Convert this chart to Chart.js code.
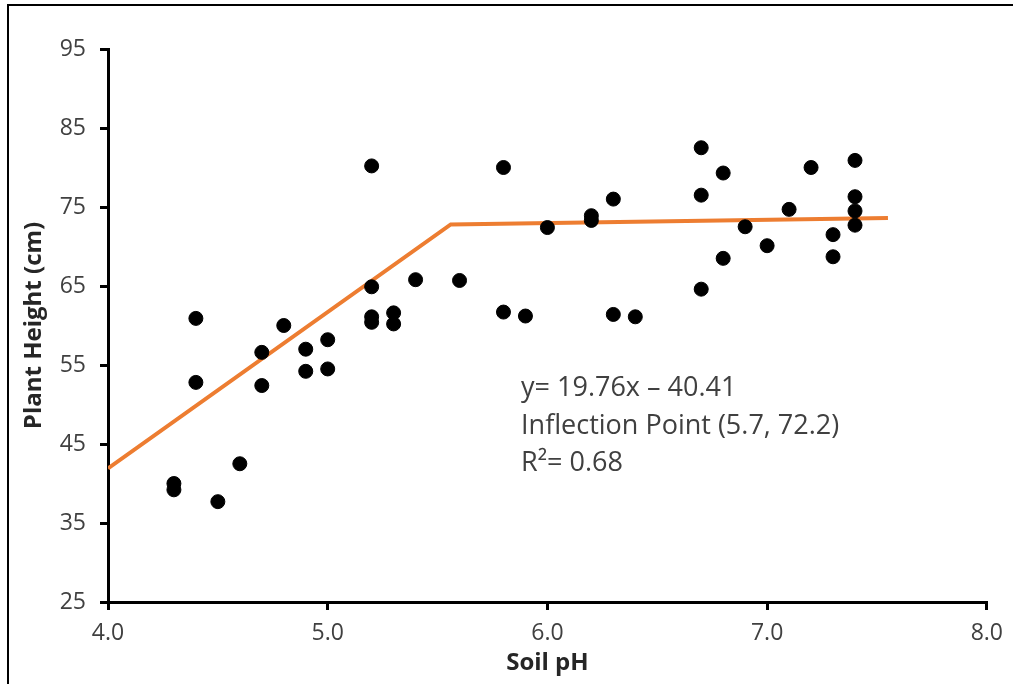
<!DOCTYPE html>
<html>
<head>
<meta charset="utf-8">
<script src="https://cdn.jsdelivr.net/npm/chart.js@4.4.1/dist/chart.umd.min.js"></script>
<style>
  html, body { margin: 0; padding: 0; background: #fff; }
  #wrap { position: relative; width: 1013px; height: 684px; }
  #frame { position: absolute; left: 7px; top: 4px; right: 0; bottom: 0;
           border-left: 2px solid #000; border-top: 2px solid #000; pointer-events: none; }
  canvas { position: absolute; left: 0; top: 0; }
</style>
</head>
<body>
<div id="wrap">
  <canvas id="chart" width="1013" height="684"></canvas>
  <div id="frame"></div>
</div>
<script>
// observed points (soil pH vs plant height)
const phValues = [
  4.3, 4.3, 4.4, 4.4, 4.5, 4.6, 4.7, 4.7, 4.8, 4.9, 4.9, 5.0, 5.0,
  5.2, 5.2, 5.2, 5.2, 5.3, 5.3, 5.4, 5.6, 5.8, 5.8, 5.9, 6.0,
  6.2, 6.2, 6.3, 6.3, 6.4, 6.7, 6.7, 6.7, 6.8, 6.8, 6.9, 7.0,
  7.1, 7.2, 7.3, 7.3, 7.4, 7.4, 7.4, 7.4
];
const heightValues = [
  40.0, 39.2, 60.9, 52.8, 37.7, 42.5, 56.6, 52.4, 60.0, 57.0, 54.2, 58.2, 54.5,
  80.2, 64.9, 61.1, 60.4, 61.6, 60.2, 65.8, 65.7, 80.0, 61.7, 61.2, 72.4,
  73.9, 73.3, 76.0, 61.4, 61.1, 82.5, 76.5, 64.6, 79.3, 68.5, 72.5, 70.1,
  74.7, 80.0, 71.5, 68.7, 80.9, 76.3, 74.5, 72.7
];

// segmented (linear-plateau) fit as drawn
const fitX = [4.0, 5.56, 7.55];
const fitY = [41.9, 72.8, 73.6];

const annotationLines = ['y= 19.76x \u2013 40.41', 'Inflection Point (5.7, 72.2)', 'R\u00b2= 0.68'];

const xTicks = [4, 5, 6, 7, 8];
const yTicks = [25, 35, 45, 55, 65, 75, 85, 95];

const fontFamily = '"Open Sans", Lato, sans-serif';
const textColor = '#404040';

const annotationPlugin = {
  id: 'fitNote',
  afterDatasetsDraw(chart) {
    const { ctx, scales } = chart;
    const x0 = scales.x.getPixelForValue(5.88);
    const ys = [52.1, 47.3, 42.5];
    ctx.save();
    ctx.font = '27px ' + fontFamily;
    ctx.fillStyle = textColor;
    ctx.textBaseline = 'middle';
    annotationLines.forEach((t, i) => ctx.fillText(t, x0, scales.y.getPixelForValue(ys[i])));
    ctx.restore();
  }
};

new Chart(document.getElementById('chart'), {
  type: 'scatter',
  data: {
    datasets: [
      {
        label: 'Observed',
        data: phValues.map((x, i) => ({ x, y: heightValues[i] })),
        backgroundColor: '#000',
        borderColor: '#000',
        pointRadius: 7,
        pointHoverRadius: 7
      },
      {
        label: 'Fit',
        type: 'line',
        data: fitX.map((x, i) => ({ x, y: fitY[i] })),
        borderColor: '#ED7D31',
        borderWidth: 4,
        pointRadius: 0,
        fill: false,
        tension: 0
      }
    ]
  },
  options: {
    responsive: false,
    animation: false,
    layout: { padding: { left: 0, right: 26, top: 49, bottom: 0 } },
    plugins: { legend: { display: false }, tooltip: { enabled: false } },
    scales: {
      x: {
        type: 'linear',
        min: 4, max: 8,
        afterBuildTicks: s => { s.ticks = xTicks.map(v => ({ value: v })); },
        afterFit: s => { s.height = 82; },
        border: { color: '#000', width: 3 },
        grid: { drawOnChartArea: false, drawTicks: true, tickLength: 8, color: '#000', lineWidth: 3 },
        ticks: {
          padding: 10,
          color: textColor,
          font: { family: fontFamily, size: 23 },
          callback: v => Number(v).toFixed(1)
        },
        title: {
          display: true,
          text: 'Soil pH',
          color: '#262626',
          font: { family: fontFamily, size: 24, weight: 'bold' },
          padding: { top: 6, bottom: 6 }
        }
      },
      y: {
        min: 25, max: 95,
        afterBuildTicks: s => { s.ticks = yTicks.map(v => ({ value: v })); },
        afterFit: s => { s.width = 108; },
        border: { color: '#000', width: 3 },
        grid: { drawOnChartArea: false, drawTicks: true, tickLength: 8, color: '#000', lineWidth: 3 },
        ticks: {
          padding: 14,
          color: textColor,
          font: { family: fontFamily, size: 23 }
        },
        title: {
          display: true,
          text: 'Plant Height (cm)',
          color: '#262626',
          font: { family: fontFamily, size: 24, weight: 'bold' },
          padding: { top: 20, bottom: 20 }
        }
      }
    }
  },
  plugins: [annotationPlugin]
});
</script>
</body>
</html>
